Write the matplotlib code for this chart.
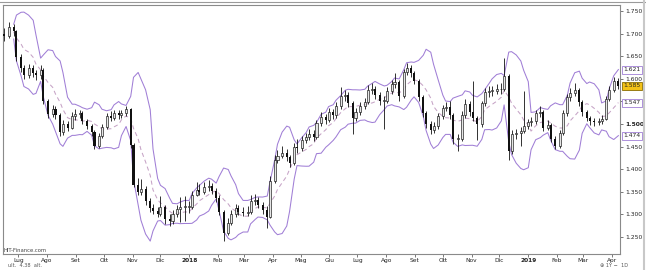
import matplotlib
matplotlib.use("Agg")
import matplotlib.pyplot as plt
import matplotlib.dates as mdates
import matplotlib.transforms as mtransforms
from matplotlib.lines import Line2D
import numpy as np
import pandas as pd

# ---------------- data ----------------
start_date = "2017-06-16"
n_candles = 158
first_open = 1.700

closes = [
    1.694, 1.714, 1.705, 1.648, 1.623, 1.608, 1.623, 1.612, 1.608, 1.619,
    1.551, 1.522, 1.533, 1.520, 1.482, 1.500, 1.491, 1.518, 1.522, 1.524,
    1.507, 1.496, 1.482, 1.452, 1.474, 1.493, 1.518, 1.513, 1.524, 1.520,
    1.524, 1.533, 1.454, 1.366, 1.350, 1.357, 1.330, 1.315, 1.308, 1.302,
    1.317, 1.289, 1.286, 1.300, 1.313, 1.317, 1.317, 1.317, 1.344, 1.355,
    1.350, 1.361, 1.364, 1.353, 1.337, 1.306, 1.260, 1.282, 1.300, 1.315,
    1.306, 1.304, 1.306, 1.330, 1.333, 1.322, 1.311, 1.295, 1.375, 1.421,
    1.430, 1.436, 1.427, 1.414, 1.449, 1.447, 1.465, 1.471, 1.478, 1.471,
    1.502, 1.516, 1.509, 1.527, 1.520, 1.540, 1.562, 1.564, 1.546, 1.513,
    1.527, 1.540, 1.549, 1.575, 1.577, 1.564, 1.551, 1.551, 1.573, 1.588,
    1.593, 1.562, 1.615, 1.623, 1.612, 1.595, 1.560, 1.524, 1.500, 1.487,
    1.496, 1.518, 1.535, 1.538, 1.520, 1.467, 1.467, 1.520, 1.544, 1.527,
    1.513, 1.500, 1.546, 1.571, 1.573, 1.573, 1.577, 1.577, 1.606, 1.441,
    1.478, 1.480, 1.485, 1.496, 1.504, 1.507, 1.524, 1.527, 1.491, 1.498,
    1.467, 1.452, 1.480, 1.524, 1.560, 1.568, 1.575, 1.549, 1.527, 1.513,
    1.507, 1.504, 1.506, 1.512, 1.555, 1.575, 1.595, 1.585,
]

highs = [
    1.712, 1.726, 1.722, 1.708, 1.655, 1.630, 1.632, 1.630, 1.620, 1.630,
    1.624, 1.556, 1.542, 1.540, 1.524, 1.508, 1.506, 1.526, 1.534, 1.532,
    1.528, 1.512, 1.500, 1.486, 1.480, 1.500, 1.524, 1.528, 1.530, 1.530,
    1.532, 1.540, 1.536, 1.458, 1.380, 1.378, 1.362, 1.336, 1.324, 1.316,
    1.340, 1.322, 1.300, 1.310, 1.322, 1.338, 1.340, 1.330, 1.352, 1.372,
    1.368, 1.372, 1.376, 1.370, 1.358, 1.342, 1.310, 1.292, 1.310, 1.324,
    1.322, 1.316, 1.318, 1.342, 1.346, 1.338, 1.328, 1.318, 1.384, 1.432,
    1.442, 1.452, 1.444, 1.432, 1.458, 1.466, 1.474, 1.480, 1.488, 1.486,
    1.510, 1.526, 1.522, 1.536, 1.534, 1.548, 1.582, 1.576, 1.570, 1.550,
    1.536, 1.548, 1.558, 1.586, 1.590, 1.584, 1.570, 1.562, 1.582, 1.598,
    1.612, 1.598, 1.622, 1.636, 1.630, 1.618, 1.600, 1.564, 1.528, 1.506,
    1.504, 1.524, 1.542, 1.548, 1.552, 1.524, 1.478, 1.528, 1.556, 1.550,
    1.596, 1.518, 1.552, 1.580, 1.584, 1.584, 1.588, 1.590, 1.645, 1.610,
    1.486, 1.490, 1.494, 1.574, 1.512, 1.516, 1.532, 1.540, 1.532, 1.508,
    1.502, 1.474, 1.486, 1.530, 1.566, 1.580, 1.590, 1.580, 1.554, 1.532,
    1.518, 1.514, 1.514, 1.520, 1.562, 1.584, 1.604, 1.602,
]

lows = [
    1.684, 1.690, 1.694, 1.640, 1.615, 1.600, 1.602, 1.604, 1.598, 1.600,
    1.545, 1.514, 1.515, 1.512, 1.474, 1.476, 1.484, 1.488, 1.510, 1.514,
    1.500, 1.488, 1.474, 1.444, 1.448, 1.470, 1.490, 1.506, 1.508, 1.512,
    1.514, 1.518, 1.448, 1.360, 1.342, 1.344, 1.322, 1.306, 1.300, 1.294,
    1.296, 1.280, 1.274, 1.280, 1.294, 1.284, 1.286, 1.304, 1.312, 1.340,
    1.342, 1.345, 1.352, 1.345, 1.328, 1.298, 1.242, 1.254, 1.276, 1.294,
    1.298, 1.296, 1.296, 1.302, 1.322, 1.314, 1.302, 1.270, 1.292, 1.370,
    1.414, 1.424, 1.418, 1.404, 1.410, 1.436, 1.440, 1.458, 1.464, 1.462,
    1.466, 1.496, 1.500, 1.504, 1.512, 1.514, 1.534, 1.552, 1.538, 1.478,
    1.506, 1.520, 1.534, 1.544, 1.566, 1.556, 1.542, 1.490, 1.546, 1.566,
    1.580, 1.552, 1.558, 1.608, 1.604, 1.588, 1.552, 1.516, 1.492, 1.478,
    1.480, 1.490, 1.512, 1.528, 1.512, 1.456, 1.440, 1.462, 1.514, 1.518,
    1.506, 1.464, 1.494, 1.540, 1.560, 1.562, 1.566, 1.566, 1.572, 1.420,
    1.434, 1.468, 1.452, 1.480, 1.488, 1.496, 1.500, 1.516, 1.484, 1.486,
    1.460, 1.444, 1.448, 1.476, 1.518, 1.552, 1.562, 1.540, 1.518, 1.506,
    1.498, 1.496, 1.498, 1.500, 1.508, 1.550, 1.570, 1.578,
]

month_ticks = pd.date_range("2017-07-01", "2019-04-01", freq="MS")
month_labels = ["Lug", "Ago", "Set", "Ott", "Nov", "Dic", "2018", "Feb", "Mar",
                "Apr", "Mag", "Giu", "Lug", "Ago", "Set", "Ott", "Nov", "Dic",
                "2019", "Feb", "Mar", "Apr"]
price_ticks = [1.25, 1.30, 1.35, 1.40, 1.45, 1.50, 1.55, 1.60, 1.65, 1.70, 1.75]
bb_window = 7   # ~20 trading days with 3-day candles

# ---------------- figure ----------------
W, H = 646, 270
fig = plt.figure(figsize=(W / 100, H / 100), dpi=100)
fig.patch.set_facecolor("white")
ax_l, ax_r, ax_t, ax_b = 3, 620, 4.5, 253.5
ax = fig.add_axes([ax_l / W, 1 - ax_b / H, (ax_r - ax_l) / W, (ax_b - ax_t) / H])

dates = pd.bdate_range(start_date, periods=n_candles, freq="3B")
x = mdates.date2num(dates)
c = np.array(closes)
o = np.array([first_open] + closes[:-1])
hi = np.array(highs)
lo = np.array(lows)

# Bollinger bands
s = pd.Series(closes)
mid = s.rolling(bb_window, min_periods=3).mean()
sd = s.rolling(bb_window, min_periods=3).std(ddof=0)
upper = mid + 2 * sd
lower = mid - 2 * sd

band_col = "#a07ed6"
ax.plot(x, upper, color=band_col, lw=0.75, zorder=1)
ax.plot(x, lower, color=band_col, lw=0.75, zorder=1)
ax.plot(x, mid, color="#c6a3c6", lw=0.75, ls=(0, (4, 3)), zorder=1)

# candles
width = 2.2
up = c >= o
ax.vlines(x, lo, hi, color="#111111", lw=0.6, zorder=2)
h_up = np.maximum((c - o)[up], 0.0015)
h_dn = np.maximum((o - c)[~up], 0.0015)
ax.bar(x[up], h_up, bottom=o[up], width=width, facecolor="#e6e6e6",
       edgecolor="#111111", lw=0.45, zorder=3)
ax.bar(x[~up], h_dn, bottom=c[~up], width=width, color="#111111",
       lw=0, zorder=3)

# axes limits
ax.set_xlim(mdates.date2num(pd.Timestamp("2017-06-14 12:00")),
            mdates.date2num(pd.Timestamp("2019-04-09 18:00")))
ax.set_ylim(1.2137, 1.7644)

# last values (upper band, close, middle band, lower band)
last_vals = [(upper.iloc[-1], "white", band_col),
             (c[-1], "#f3c219", "#8a6d00"),
             (mid.iloc[-1], "white", band_col),
             (lower.iloc[-1], "white", band_col)]

# y axis on right (labels hidden behind a value box are not drawn)
ax.yaxis.tick_right()
ax.set_yticks(price_ticks)
ax.set_yticklabels([f"{v:.3f}" for v in price_ticks])
ax.tick_params(axis="y", labelsize=4.3, length=2, width=0.5, pad=2,
               colors="#444444", labelcolor="#222222")
for lab, v in zip(ax.get_yticklabels(), price_ticks):
    if abs(v - 1.50) < 1e-9:
        lab.set_fontweight("bold")
    if any(abs(v - lv) < 0.012 for lv, _, _ in last_vals):
        lab.set_visible(False)

ax.set_xticks(mdates.date2num(month_ticks))
ax.set_xticklabels(month_labels)
ax.tick_params(axis="x", labelsize=4.2, length=2, width=0.5, pad=1,
               colors="#444444", labelcolor="#222222")
for lab, t in zip(ax.get_xticklabels(), month_labels):
    if t.isdigit():
        lab.set_fontweight("bold")

for sp in ax.spines.values():
    sp.set_color("#8a8a8a")
    sp.set_linewidth(0.8)

tr = mtransforms.blended_transform_factory(ax.transAxes, ax.transData)
for v, fc, ec in last_vals:
    ax.text(1.006, v, f"{v:.3f}", transform=tr, fontsize=4.3, color="#222222",
            va="center", ha="left", zorder=6, clip_on=False,
            bbox=dict(boxstyle="square,pad=0.25", fc=fc, ec=ec, lw=0.6))

# watermark
ax.text(0.0, 0.004, "HIT-Finance.com", transform=ax.transAxes, fontsize=3.8,
        color="#444444", ha="left", va="bottom")

# frame decorations
fig.add_artist(Line2D([0, 1], [1 - 2.2 / H, 1 - 2.2 / H], color="#9a9a9a",
                      lw=0.8, transform=fig.transFigure))
fig.add_artist(Line2D([643.5 / W, 643.5 / W], [0, 1], color="#c8c8c8",
                      lw=1.5, transform=fig.transFigure))
fig.text(8 / W, 1 - 265.5 / H, "ult.  4.38  alt.", fontsize=3.6,
         color="#555555", ha="left", va="center")
fig.text(628 / W, 1 - 265.5 / H, "\u2295 1Y \u2212  1D", fontsize=3.6,
         color="#555555", ha="right", va="center")

fig.savefig("out.png", dpi=100, facecolor="white")
